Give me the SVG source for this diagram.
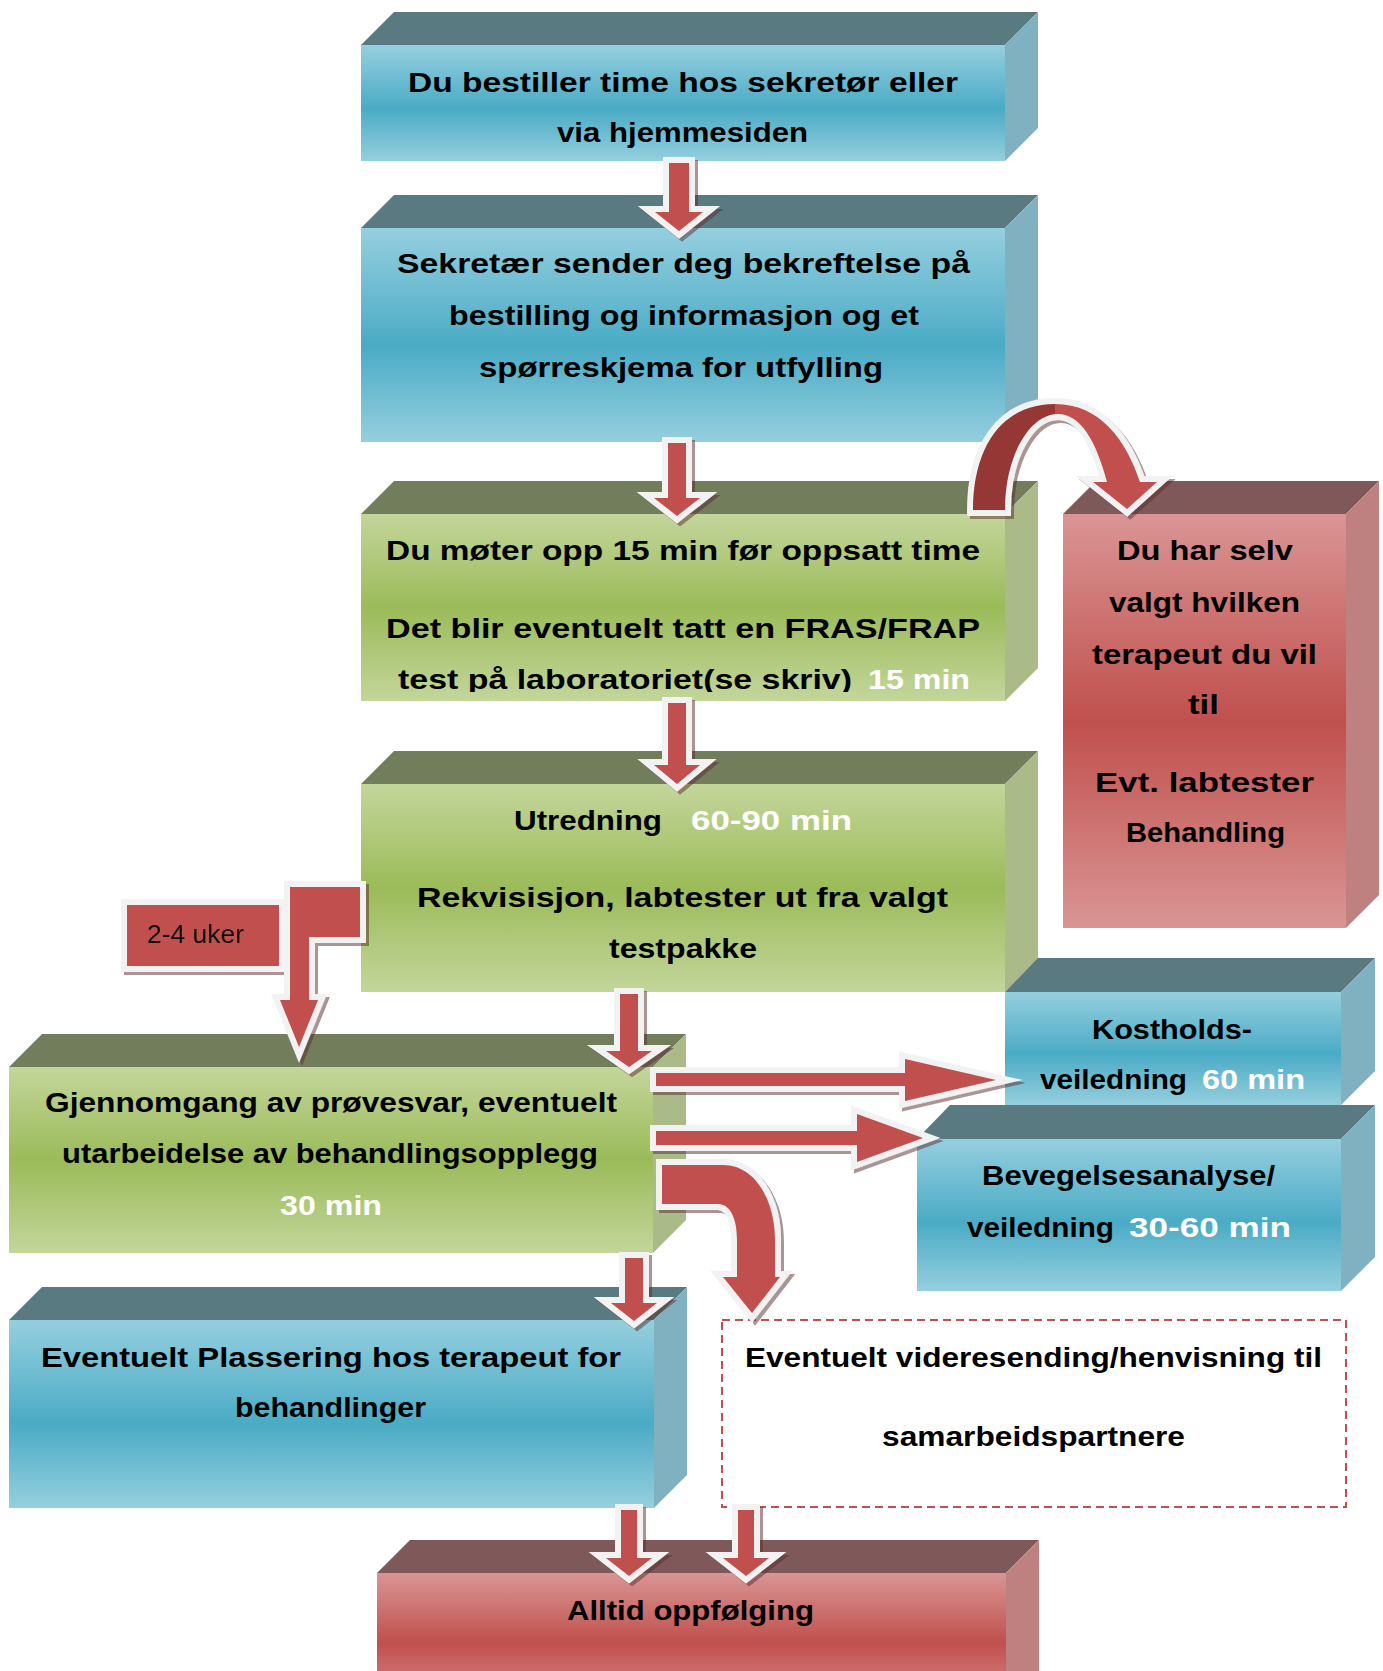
<svg xmlns="http://www.w3.org/2000/svg" width="1383" height="1671" viewBox="0 0 1383 1671">
<style>
.t{font-family:"Comic Sans MS","Liberation Sans",sans-serif;font-weight:bold;font-size:28px;fill:#000}
.w{fill:#fff}
.lbl{font-family:"Liberation Sans",sans-serif;font-size:26px;fill:#111}
.topB{fill:#5A7A81}.sideB{fill:#7FB1C1}
.topG{fill:#727D5C}.sideG{fill:#AABA88}
.topR{fill:#7F5959}.sideR{fill:#BF8080}
.arr{fill:#C0504D;stroke:#F2F2F2;stroke-width:12;paint-order:stroke fill;stroke-linejoin:miter;stroke-miterlimit:10}
</style>
<defs>
<linearGradient id="gB" x1="0" y1="0" x2="0" y2="1"><stop offset="0" stop-color="#95CFDF"/><stop offset="0.55" stop-color="#4AABC5"/><stop offset="1" stop-color="#95CFDF"/></linearGradient>
<linearGradient id="gG" x1="0" y1="0" x2="0" y2="1"><stop offset="0" stop-color="#C3D69B"/><stop offset="0.5" stop-color="#9BBB59"/><stop offset="1" stop-color="#C3D69B"/></linearGradient>
<linearGradient id="gR" x1="0" y1="0" x2="0" y2="1"><stop offset="0" stop-color="#D99594"/><stop offset="0.5" stop-color="#C0504D"/><stop offset="1" stop-color="#D99594"/></linearGradient>
<linearGradient id="gArc" gradientUnits="userSpaceOnUse" x1="960" y1="0" x2="1170" y2="0"><stop offset="0" stop-color="#953735"/><stop offset="0.45" stop-color="#953735"/><stop offset="0.45" stop-color="#C0504D"/><stop offset="1" stop-color="#C0504D"/></linearGradient>
<filter id="sh" x="-20%" y="-20%" width="140%" height="140%"><feDropShadow dx="3" dy="3" stdDeviation="0.7" flood-color="#5a2a2a" flood-opacity="0.5"/></filter>
<clipPath id="c3"><rect x="361" y="514" width="644" height="178"/></clipPath>
</defs>

<g id="n1">
<polygon class="topB" points="361,45 394,12 1038,12 1005,45"/>
<polygon class="sideB" points="1005,45 1038,12 1038,128 1005,161"/>
<rect x="361" y="45" width="644" height="116" fill="url(#gB)"/>
<text class="t" x="408" y="92" textLength="550" lengthAdjust="spacingAndGlyphs">Du bestiller time hos sekretør eller</text>
<text class="t" x="557" y="142" textLength="251" lengthAdjust="spacingAndGlyphs">via hjemmesiden</text>
</g>

<g id="n2">
<polygon class="topB" points="361,228 394,195 1038,195 1005,228"/>
<polygon class="sideB" points="1005,228 1038,195 1038,409 1005,442"/>
<rect x="361" y="228" width="644" height="214" fill="url(#gB)"/>
<text class="t" x="397" y="273" textLength="573" lengthAdjust="spacingAndGlyphs">Sekretær sender deg bekreftelse på</text>
<text class="t" x="449" y="325" textLength="470" lengthAdjust="spacingAndGlyphs">bestilling og informasjon og et</text>
<text class="t" x="479" y="377" textLength="404" lengthAdjust="spacingAndGlyphs">spørreskjema for utfylling</text>
</g>

<g id="n3">
<polygon class="topG" points="361,514 394,481 1038,481 1005,514"/>
<polygon class="sideG" points="1005,514 1038,481 1038,668 1005,701"/>
<rect x="361" y="514" width="644" height="187" fill="url(#gG)"/>
<text class="t" x="386" y="560" textLength="594" lengthAdjust="spacingAndGlyphs">Du møter opp 15 min før oppsatt time</text>
<text class="t" x="386" y="638" textLength="594" lengthAdjust="spacingAndGlyphs">Det blir eventuelt tatt en FRAS/FRAP</text>
<g clip-path="url(#c3)">
<text class="t" x="398" y="689" textLength="454" lengthAdjust="spacingAndGlyphs">test på laboratoriet(se skriv)</text>
<text class="t w" x="868" y="689" textLength="102" lengthAdjust="spacingAndGlyphs">15 min</text>
</g>
</g>

<g id="n4">
<polygon class="topG" points="361,784 394,751 1038,751 1005,784"/>
<polygon class="sideG" points="1005,784 1038,751 1038,959 1005,992"/>
<rect x="361" y="784" width="644" height="208" fill="url(#gG)"/>
<text class="t" x="514" y="830" textLength="148" lengthAdjust="spacingAndGlyphs">Utredning</text>
<text class="t w" x="691" y="830" textLength="161" lengthAdjust="spacingAndGlyphs">60-90 min</text>
<text class="t" x="417" y="907" textLength="531" lengthAdjust="spacingAndGlyphs">Rekvisisjon, labtester ut fra valgt</text>
<text class="t" x="609" y="958" textLength="148" lengthAdjust="spacingAndGlyphs">testpakke</text>
</g>

<g id="n_red">
<polygon class="topR" points="1063,514 1096,481 1379,481 1346,514"/>
<polygon class="sideR" points="1346,514 1379,481 1379,895 1346,928"/>
<rect x="1063" y="514" width="283" height="414" fill="url(#gR)"/>
<text class="t" x="1117" y="560" textLength="176" lengthAdjust="spacingAndGlyphs">Du har selv</text>
<text class="t" x="1109" y="612" textLength="191" lengthAdjust="spacingAndGlyphs">valgt hvilken</text>
<text class="t" x="1092" y="664" textLength="225" lengthAdjust="spacingAndGlyphs">terapeut du vil</text>
<text class="t" x="1188" y="714" textLength="31" lengthAdjust="spacingAndGlyphs">til</text>
<text class="t" x="1095" y="792" textLength="219" lengthAdjust="spacingAndGlyphs">Evt. labtester</text>
<text class="t" x="1126" y="842" textLength="159" lengthAdjust="spacingAndGlyphs">Behandling</text>
</g>

<g id="n_kost">
<polygon class="topB" points="1005,992 1038,958 1375,958 1341,992"/>
<polygon class="sideB" points="1341,992 1375,958 1375,1071 1341,1105"/>
<rect x="1005" y="992" width="336" height="113" fill="url(#gB)"/>
<text class="t" x="1092" y="1039" textLength="160" lengthAdjust="spacingAndGlyphs">Kostholds-</text>
<text class="t" x="1040" y="1089" textLength="147" lengthAdjust="spacingAndGlyphs">veiledning</text>
<text class="t w" x="1202" y="1089" textLength="103" lengthAdjust="spacingAndGlyphs">60 min</text>
</g>

<g id="n_beveg">
<polygon class="topB" points="917,1139 950,1105 1375,1105 1341,1139"/>
<polygon class="sideB" points="1341,1139 1375,1105 1375,1257 1341,1291"/>
<rect x="917" y="1139" width="424" height="152" fill="url(#gB)"/>
<text class="t" x="982" y="1185" textLength="293" lengthAdjust="spacingAndGlyphs">Bevegelsesanalyse/</text>
<text class="t" x="967" y="1237" textLength="147" lengthAdjust="spacingAndGlyphs">veiledning</text>
<text class="t w" x="1129" y="1237" textLength="162" lengthAdjust="spacingAndGlyphs">30-60 min</text>
</g>

<g id="n_gjen">
<polygon class="topG" points="9,1067 42,1034 686,1034 653,1067"/>
<polygon class="sideG" points="653,1067 686,1034 686,1220 653,1253"/>
<rect x="9" y="1067" width="644" height="186" fill="url(#gG)"/>
<text class="t" x="45" y="1112" textLength="572" lengthAdjust="spacingAndGlyphs">Gjennomgang av prøvesvar, eventuelt</text>
<text class="t" x="62" y="1163" textLength="536" lengthAdjust="spacingAndGlyphs">utarbeidelse av behandlingsopplegg</text>
<text class="t w" x="280" y="1215" textLength="102" lengthAdjust="spacingAndGlyphs">30 min</text>
</g>

<g id="n_plass">
<polygon class="topB" points="9,1320 42,1287 687,1287 654,1320"/>
<polygon class="sideB" points="654,1320 687,1287 687,1475 654,1508"/>
<rect x="9" y="1320" width="645" height="188" fill="url(#gB)"/>
<text class="t" x="41" y="1367" textLength="580" lengthAdjust="spacingAndGlyphs">Eventuelt Plassering hos terapeut for</text>
<text class="t" x="235" y="1417" textLength="191" lengthAdjust="spacingAndGlyphs">behandlinger</text>
</g>

<g id="n_vide">
<rect x="722" y="1320" width="624" height="187" fill="#fff" stroke="#C0504D" stroke-width="2" stroke-dasharray="8,5"/>
<text class="t" x="745" y="1367" textLength="577" lengthAdjust="spacingAndGlyphs">Eventuelt videresending/henvisning til</text>
<text class="t" x="882" y="1446" textLength="303" lengthAdjust="spacingAndGlyphs">samarbeidspartnere</text>
</g>

<g id="n_alltid">
<polygon class="topR" points="377,1573 410,1540 1039,1540 1006,1573"/>
<polygon class="sideR" points="1006,1573 1039,1540 1039,1671 1006,1700"/>
<rect x="377" y="1573" width="629" height="140" fill="url(#gR)"/>
<text class="t" x="567" y="1620" textLength="247" lengthAdjust="spacingAndGlyphs">Alltid oppfølging</text>
</g>

<g id="connectors" filter="url(#sh)">
<path class="arr" d="M669,163 H689 V212 H703 L679,231 L655,212 H669 Z"/>
<path class="arr" d="M668,443 H686 V498 H700 L677,516 L654,498 H668 Z"/>
<path class="arr" d="M668,703 H686 V765 H700 L677,784 L654,765 H668 Z"/>
<path class="arr" d="M620,994 H638 V1051 H652 L629,1067 L606,1051 H620 Z"/>
<path class="arr" d="M625,1258 H643 V1303 H657 L634,1321 L611,1303 H625 Z"/>
<path class="arr" d="M621,1510 H637 V1558 H652 L629,1576 L606,1558 H621 Z"/>
<path class="arr" d="M738,1510 H754 V1558 H769 L746,1576 L723,1558 H738 Z"/>
<path class="arr" d="M656,1073 H905 V1059 L996,1080 L905,1101 V1086 H656 Z"/>
<path class="arr" d="M656,1131 H857 V1114 L923,1138 L857,1162 V1145 H656 Z"/>
<path class="arr" d="M662,1165 H723 C755,1165 775,1200 775,1240 V1277 H780 L752,1313 L723,1277 H737 V1240 C737,1218 730,1204 718,1204 H662 Z"/>
<path class="arr" style="fill:url(#gArc)" d="M973,510 C973,450 1000,404 1055,404 C1100,404 1126,440 1140,482 H1157 L1127,509 L1093,482 H1107 C1096,440 1080,414 1058,414 C1030,414 1005,455 1005,510 Z"/>
<path class="arr" d="M290,887 H360 V937 H309 V1000 H318 L299,1047 L280,1000 H290 Z"/>
<rect class="arr" x="127" y="905" width="152" height="61"/>
<text class="lbl" x="147" y="943" textLength="97" lengthAdjust="spacingAndGlyphs">2-4 uker</text>
</g>
</svg>
